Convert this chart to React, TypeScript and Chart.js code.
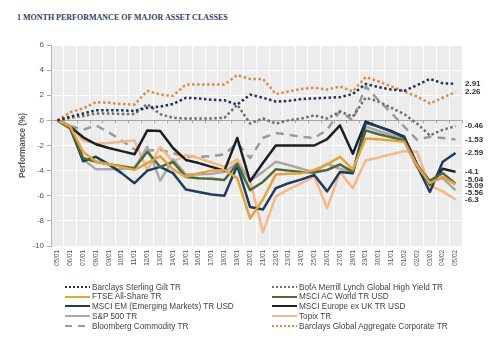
import React, { useEffect, useRef } from 'react';
import { Chart, registerables } from 'chart.js';

Chart.register(...registerables);

const labels = [
  '05/01', '06/01', '07/01', '08/01', '09/01', '10/01', '11/01', '12/01', '13/01', '14/01',
  '15/01', '16/01', '17/01', '18/01', '19/01', '20/01', '21/01', '22/01', '23/01', '24/01',
  '25/01', '26/01', '27/01', '28/01', '29/01', '30/01', '31/01', '01/02', '02/02', '03/02',
  '04/02', '05/02',
];

const yTicks = [6, 4, 2, 0, -2, -4, -6, -8, -10];

const gilt = [0, 0.3, 0.55, 0.8, 0.8, 0.8, 0.75, 1.0, 1.1, 1.3, 1.8, 1.75, 1.65, 1.6, 1.25, 2.05, 1.8, 1.5, 1.55, 1.7, 1.75, 1.8, 1.85, 2.1, 2.9, 2.65, 2.45, 2.35, 2.8, 3.3, 2.95, 2.91];
const bofa = [0, 0.2, 0.35, 0.55, 0.55, 0.5, 0.5, 1.3, 0.5, 0.2, 0.15, 0.15, 0.15, 0.2, 1.25, -0.25, 0.15, -0.25, 0.0, 0.15, 0.4, 0.15, 0.7, 0.3, 1.8, 1.5, 1.0, 0.5, -0.25, -1.2, -0.75, -0.46];
const ftse = [0, -0.5, -2.5, -3.3, -3.5, -3.7, -3.95, -3.4, -2.85, -3.9, -4.5, -4.2, -4.0, -3.95, -4.6, -7.8, -6.3, -4.3, -4.25, -4.2, -3.95, -3.5, -2.9, -3.9, -1.45, -1.5, -1.6, -1.7, -3.6, -5.0, -4.5, -5.09];
const acwi = [0, -0.55, -3.0, -3.3, -3.5, -3.65, -3.8, -2.5, -3.7, -3.3, -4.5, -4.6, -4.65, -4.75, -3.45, -5.55, -4.9, -3.9, -4.0, -4.1, -4.15, -3.95, -3.5, -4.1, -0.8, -1.1, -1.35, -1.6, -3.7, -4.8, -4.2, -5.04];
const msciEm = [0, -0.6, -3.25, -2.9, -3.5, -4.2, -5.0, -4.0, -3.7, -4.2, -5.5, -5.7, -5.9, -6.0, -3.6, -6.9, -7.1, -5.4, -5.0, -4.7, -4.35, -5.65, -4.1, -4.2, -0.2, -0.5, -0.9, -1.35, -3.6, -5.7, -3.3, -2.59];
const msciEur = [0, -0.5, -1.35, -1.9, -2.2, -2.45, -2.7, -0.8, -0.85, -2.2, -3.15, -3.4, -3.7, -4.0, -1.4, -4.85, -3.4, -2.0, -2.0, -2.0, -2.0, -1.5, -0.4, -2.65, -0.1, -0.5, -0.85, -1.3, -3.5, -5.1, -3.85, -4.1];
const spx = [0, -0.7, -3.1, -3.9, -3.9, -3.9, -3.8, -2.1, -4.8, -3.1, -4.3, -4.3, -4.25, -4.1, -3.4, -4.8, -4.1, -3.3, -3.55, -3.85, -4.15, -3.45, -3.85, -4.15, -0.5, -0.85, -1.15, -1.5, -3.55, -4.85, -4.6, -5.56];
const topix = [0, -0.4, -1.6, -1.85, -1.8, -1.7, -1.6, -3.95, -2.1, -3.3, -2.75, -3.0, -3.35, -3.7, -3.1, -4.8, -8.9, -6.05, -5.5, -5.0, -4.45, -7.0, -4.1, -5.4, -3.2, -2.95, -2.7, -2.45, -2.5, -5.2, -5.65, -6.3];
const bcom = [0, -0.45, -0.75, -0.4, -0.95, -1.6, -2.3, -2.4, -2.35, -2.6, -2.9, -2.9, -2.85, -2.7, -1.8, -3.0, -1.4, -1.0, -1.15, -1.3, -1.4, -0.75, 0.75, 0.0, 2.7, 1.6, 0.6, -0.5, -1.55, -1.3, -1.4, -1.53];
const corp = [0, 0.65, 0.95, 1.45, 1.4, 1.3, 1.25, 2.35, 2.05, 1.95, 2.85, 2.85, 2.85, 2.85, 3.6, 3.3, 3.3, 2.1, 2.3, 2.5, 2.6, 2.45, 2.7, 2.3, 3.45, 3.1, 2.7, 2.3, 1.9, 1.35, 1.8, 2.26];

const names = [
  'Barclays Sterling Gilt TR',
  'BofA Merrill Lynch Global High Yield TR',
  'FTSE All-Share TR',
  'MSCI AC World TR USD',
  'MSCI EM (Emerging Markets) TR USD',
  'MSCI Europe ex UK TR USD',
  'S&P 500 TR',
  'Topix TR',
  'Bloomberg Commodity TR',
  'Barclays Global Aggregate Corporate TR',
];
const values = [gilt, bofa, ftse, acwi, msciEm, msciEur, spx, topix, bcom, corp];
const colors = ['#1f3553', '#6e6e6e', '#e3a23b', '#51693a', '#1e3d5e', '#1b1f24', '#a9a9a9', '#f4b888', '#9a9a9a', '#dc8a48'];
const styles = ['dot', 'dot', 'solid', 'solid', 'solid', 'solid', 'solid', 'solid', 'dash', 'dot'];

const FONT = 'Arial, "Liberation Sans", sans-serif';

const dashFor = (s: string) => (s === 'dot' ? [2.5, 2.5] : s === 'dash' ? [8, 6] : []);

const plotBg = {
  id: 'plotBg',
  beforeDraw(chart: any) {
    const { ctx, chartArea: a } = chart;
    ctx.save();
    ctx.fillStyle = '#ececec';
    ctx.fillRect(a.left, a.top, a.right - a.left, a.bottom - a.top);
    ctx.restore();
  },
  beforeDatasetsDraw(chart: any) {
    const { ctx } = chart;
    const x = chart.scales.x;
    const y = chart.scales.y;
    const y0 = y.getPixelForValue(0);
    const band = x.getPixelForValue(1) - x.getPixelForValue(0);
    ctx.save();
    ctx.strokeStyle = '#a6a6a6';
    ctx.lineWidth = 1;
    for (let i = 0; i <= labels.length; i++) {
      const px = Math.round(x.getPixelForValue(0) - band / 2 + i * band) + 0.5;
      ctx.beginPath();
      ctx.moveTo(px, y0);
      ctx.lineTo(px, y0 + 3);
      ctx.stroke();
    }
    ctx.restore();
  },
};

const endLabels = {
  id: 'endLabels',
  afterDatasetsDraw(chart: any) {
    const { ctx, chartArea: a } = chart;
    const items: { y: number; text: string }[] = [];
    chart.data.datasets.forEach((ds: any, i: number) => {
      const meta = chart.getDatasetMeta(i);
      const pt = meta.data[meta.data.length - 1];
      items.push({ y: pt.y, text: String(ds.data[ds.data.length - 1]) });
    });
    items.sort((p, q) => p.y - q.y);
    const G = 6.5;
    for (let it = 0; it < 60; it++) {
      for (let k = 1; k < items.length; k++) {
        const gap = items[k].y - items[k - 1].y;
        if (gap < G) {
          const push = (G - gap) / 2;
          items[k - 1].y -= push;
          items[k].y += push;
        }
      }
    }
    ctx.save();
    ctx.font = `bold 8px ${FONT}`;
    ctx.fillStyle = '#333';
    ctx.textBaseline = 'middle';
    ctx.textAlign = 'left';
    items.forEach((p) => ctx.fillText(p.text, a.right + 3, p.y));
    ctx.restore();
  },
};

function LegendItem({ x, y, color, style, label }: { x: number; y: number; color: string; style: string; label: string }) {
  const dash = style === 'dot' ? '2 2' : style === 'dash' ? '7 6' : undefined;
  return (
    <div style={{ position: 'absolute', left: x, top: y - 5, height: 10, display: 'flex', alignItems: 'center', whiteSpace: 'nowrap' }}>
      <svg width={26} height={10} style={{ display: 'block' }}>
        <line x1={0} y1={5} x2={25} y2={5} stroke={color} strokeWidth={2} strokeDasharray={dash} />
      </svg>
      <span style={{ font: `8.2px ${FONT}`, color: '#444', marginLeft: 1 }}>{label}</span>
    </div>
  );
}

export default function App() {
  const ref = useRef<HTMLCanvasElement>(null);

  useEffect(() => {
    const chart = new Chart(ref.current as HTMLCanvasElement, {
      type: 'line',
      data: {
        labels,
        datasets: values.map((v, i) => ({
          label: names[i],
          data: v,
          borderColor: colors[i],
          backgroundColor: colors[i],
          borderWidth: 2.5,
          borderDash: dashFor(styles[i]),
          pointRadius: 0,
          tension: 0,
          fill: false,
          borderJoinStyle: 'round' as const,
        })),
      },
      options: {
        responsive: false,
        animation: false,
        layout: { padding: { top: 45, right: 38, left: 0, bottom: 0 } },
        plugins: { legend: { display: false }, tooltip: { enabled: false } },
        scales: {
          x: {
            type: 'category',
            offset: true,
            grid: { offset: true, color: '#ffffff', drawTicks: false, lineWidth: 1 },
            border: { display: false },
            ticks: { autoSkip: false, minRotation: 90, maxRotation: 90, padding: 4, color: '#555', font: { size: 6.3, family: FONT } },
            afterFit: (s: any) => { s.height = 39; },
          },
          y: {
            min: -10,
            max: 6,
            afterBuildTicks: (s: any) => { s.ticks = yTicks.map((v) => ({ value: v })); },
            grid: {
              color: (c: any) => (c.tick && c.tick.value === 0 ? '#a6a6a6' : '#ffffff'),
              tickColor: '#aaaaaa',
              tickLength: 4,
              lineWidth: 1,
            },
            border: { display: true, color: '#b5b5b5' },
            ticks: { padding: 3, color: '#555', font: { size: 8, family: FONT } },
            title: { display: true, text: 'Performance (%)', color: '#555', font: { size: 8.2, weight: 'bold', family: FONT }, padding: { top: 18, bottom: 0 } },
            afterFit: (s: any) => { s.width = 51; },
          },
        },
      },
      plugins: [plotBg, endLabels],
    } as any);
    return () => chart.destroy();
  }, []);

  const leftCol = [0, 2, 4, 6, 8];
  const rightCol = [1, 3, 5, 7, 9];
  const rowY = [287, 296.5, 306, 316, 326];

  return (
    <div style={{ position: 'absolute', left: 0, top: 0, width: 500, height: 358, background: '#fff', overflow: 'hidden' }}>
      <div style={{ position: 'absolute', left: 17, top: 13, font: 'bold 8px "Liberation Serif", "Times New Roman", serif', color: '#2e4160', whiteSpace: 'nowrap', lineHeight: '10px' }}>
        1 MONTH PERFORMANCE OF MAJOR ASSET CLASSES
      </div>
      <canvas ref={ref} width={500} height={285} style={{ position: 'absolute', left: 0, top: 0, width: 500, height: 285 }} />
      {leftCol.map((d, r) => (
        <LegendItem key={'l' + d} x={65} y={rowY[r]} color={colors[d]} style={styles[d]} label={names[d]} />
      ))}
      {rightCol.map((d, r) => (
        <LegendItem key={'r' + d} x={272} y={rowY[r]} color={colors[d]} style={styles[d]} label={names[d]} />
      ))}
    </div>
  );
}
